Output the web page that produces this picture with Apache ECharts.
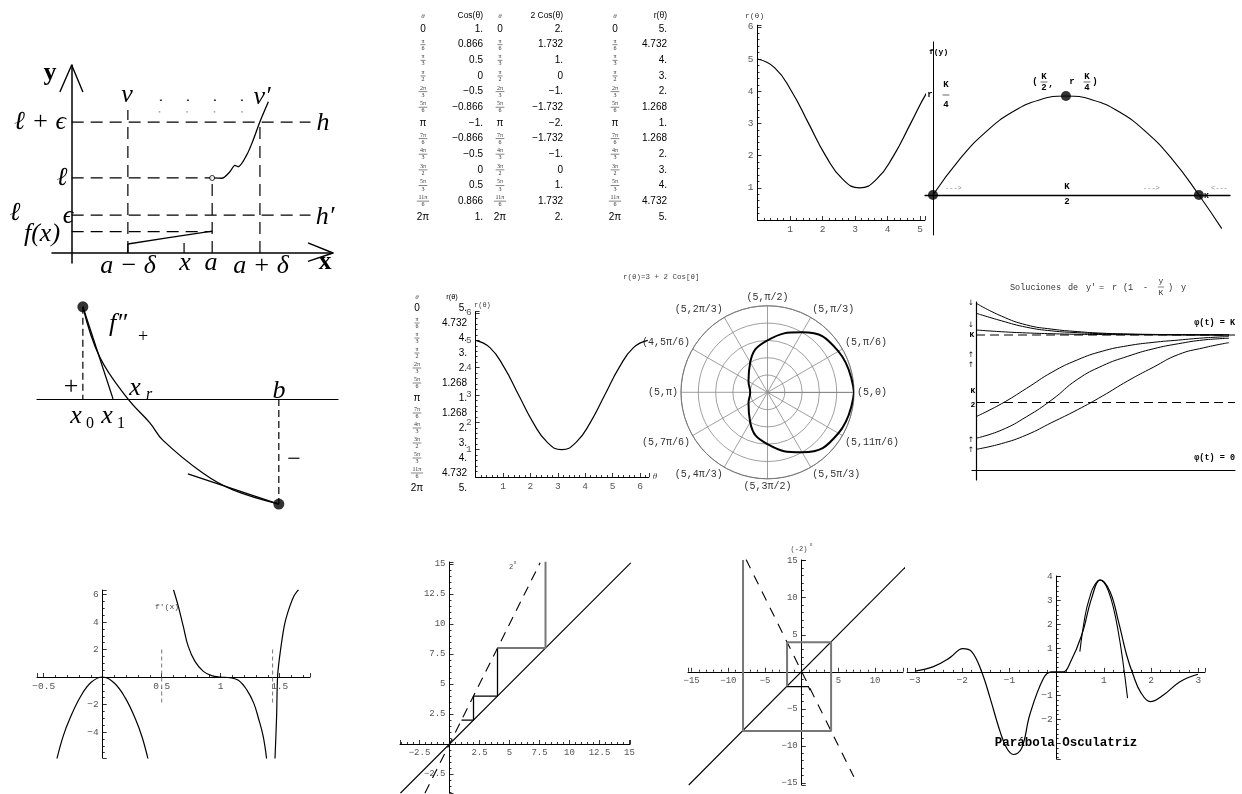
<!DOCTYPE html>
<html>
<head>
<meta charset="utf-8">
<script src="https://cdn.jsdelivr.net/npm/echarts@6/dist/echarts.min.js"></script>
<style>
  html, body { margin: 0; padding: 0; background: #fff; }
  #chart { width: 1242px; height: 794px; }
</style>
</head>
<body>
<div id="chart"></div>
<script>
// ---------- Tabla de r(θ) = 3 + 2 Cos θ ----------
const thetaLabels = ['0', 'π/6', 'π/3', 'π/2', '2π/3', '5π/6', 'π', '7π/6', '4π/3', '3π/2', '5π/3', '11π/6', '2π'];
const thetaRad = [0, 0.5236, 1.0472, 1.5708, 2.0944, 2.618, 3.1416, 3.6652, 4.1888, 4.7124, 5.236, 5.7596, 6.2832];
const thetaDeg = [0, 30, 60, 90, 120, 150, 180, 210, 240, 270, 300, 330, 360];
const cosVals = [1, 0.866, 0.5, 0, -0.5, -0.866, -1, -0.866, -0.5, 0, 0.5, 0.866, 1];
const twoCosVals = [2, 1.732, 1, 0, -1, -1.732, -2, -1.732, -1, 0, 1, 1.732, 2];
const rVals = [5, 4.732, 4, 3, 2, 1.268, 1, 1.268, 2, 3, 4, 4.732, 5];
const polarLabels = ['(5,0)', '(5,π/6)', '(5,π/3)', '(5,π/2)', '(5,2π/3)', '(4,5π/6)', '(5,π)', '(5,7π/6)', '(5,4π/3)', '(5,3π/2)', '(5,5π/3)', '(5,11π/6)'];

// ---------- Diagrama ε-δ ----------
const epsXMarks = [2, 4, 5, 6.7];          // a−δ, x, a, a+δ
const epsYLevels = [0.76, 1.35, 2.67, 4.66]; // f(x), ℓ−ε, ℓ, ℓ+ε
const epsLeftBranch = [[2, 0], [2, 0.32], [3.4, 0.54], [5, 0.78]];
const epsRightBranch = [[5.03, 2.67], [5.34, 2.66], [5.63, 2.89], [5.81, 3.12], [5.92, 3.07], [6.23, 3.49], [6.46, 4.02], [6.7, 4.67], [7.0, 5.38]];

// ---------- Método de Newton ----------
const newtonCurve = [[0, 2.35], [0.43, 1.07], [1.15, 0], [1.71, -0.61], [2.04, -1.05], [3.06, -1.89], [3.83, -2.32], [5, -2.68]];
const newtonEnds = [[0, 2.35], [5, -2.68]];
const newtonX1 = 0.77;
const newtonTangentLow = [[2.68, -1.91], [5, -2.68]];

// ---------- Crecimiento logístico f(y) ----------
const logY = [0, 0.1, 0.2, 0.3, 0.4, 0.5, 0.6, 0.7, 0.8, 0.9, 1.0, 1.086];
const logF = [0, 0.36, 0.64, 0.84, 0.96, 1, 0.96, 0.84, 0.64, 0.36, 0, -0.34];
const logMarks = [[0, 0], [0.5, 1], [1, 0]];

// ---------- Soluciones de y' = r(1 − y/K) y ----------
const solT = [0, 1, 2, 3, 4, 5, 6, 7, 8, 9, 10];
const solDown1 = [1.235, 1.14, 1.074, 1.043, 1.025, 1.013, 1.007, 1.004, 1.002, 1.001, 1.0];
const solDown2 = [1.161, 1.105, 1.057, 1.03, 1.017, 1.009, 1.005, 1.003, 1.002, 1.001, 1.0];
const solDown3 = [1.037, 1.024, 1.015, 1.009, 1.005, 1.003, 1.002, 1.001, 1.0, 1.0, 1.0];
const solUp1 = [0.395, 0.49, 0.605, 0.724, 0.815, 0.88, 0.92, 0.945, 0.962, 0.978, 0.988];
const solUp2 = [0.235, 0.295, 0.395, 0.52, 0.67, 0.772, 0.842, 0.897, 0.935, 0.963, 0.975];
const solUp3 = [0.153, 0.195, 0.26, 0.352, 0.445, 0.548, 0.66, 0.76, 0.855, 0.905, 0.943];

// ---------- f'(x) ----------
const fpBranchA = [[-0.39, -6.0], [-0.335, -4.3], [-0.28, -3.05], [-0.19, -1.45], [-0.1, -0.4], [0, 0], [0.1, -0.45], [0.19, -1.5], [0.28, -3.1], [0.335, -4.4], [0.385, -6.0]];
const fpBranchB = [[0.6, 6.35], [0.641, 5.14], [0.683, 3.68], [0.725, 2.23], [0.782, 1.14], [0.853, 0.41], [0.923, 0.1], [1.0, 0], [1.08, -0.05], [1.15, -0.24], [1.22, -0.92], [1.28, -1.9], [1.32, -3.0], [1.36, -4.3], [1.39, -6.0]];
const fpBranchC = [[1.46, -6.0], [1.474, -2.86], [1.482, 0], [1.5, 1.5], [1.538, 3.68], [1.567, 4.65], [1.62, 5.87], [1.66, 6.35]];
const fpGuides = [0.5, 1.44];
const fpTicksX = [-0.5, 0.5, 1, 1.5];
const fpTicksY = [-4, -2, 2, 4, 6];

// ---------- Iteración de 2x ----------
const twoDiag = [[-4.1, -4.1], [15.1, 15.1]];
const twoDashed = [[-2.05, -4.1], [7.55, 15.1]];
const twoStepsDark = [[1, 2], [2, 2], [2, 4], [4, 4], [4, 8]];
const twoStepsGray = [[4, 8], [8, 8], [8, 15.2]];
const twoTicks = [-2.5, 2.5, 5, 7.5, 10, 12.5, 15];

// ---------- Iteración de −2x ----------
const negDiag = [[-15.4, -15.3], [15.1, 15.1]];
const negDashed = [[-7.6, 15.2], [7.1, -14.2]];
const negStepsGray = [[-2, -2], [-2, 4], [4, 4], [4, -8], [-8, -8], [-8, 15.1]];
const negStepsDark = [[-2, -2], [0.9, -2], [1.15, -2.5]];
const negTicks = [-15, -10, -5, 5, 10, 15];

// ---------- Parábola osculatriz ----------
const oscX = [-3.0, -2.61, -2.26, -1.99, -1.8, -1.59, -1.41, -1.2, -1.06, -0.92, -0.74, -0.57, -0.28, -0.11, 0.14, 0.28, 0.53, 0.74, 0.92, 1.13, 1.31, 1.48, 1.62, 1.77, 1.98, 2.26, 2.61, 2.99];
const oscY = [0.03, 0.22, 0.6, 0.98, 0.85, 0.01, -1.1, -2.5, -3.2, -3.47, -3.2, -1.8, -0.27, 0.0, 0.0, 0.36, 1.55, 3.1, 3.87, 3.37, 2.1, 0.71, -0.13, -0.83, -1.25, -0.97, -0.41, -0.1];
const parX = [0.49, 0.6, 0.7, 0.8, 0.92, 1.0, 1.1, 1.2, 1.3, 1.4, 1.5];
const parY = [0.85, 2.35, 3.14, 3.64, 3.85, 3.76, 3.37, 2.7, 1.73, 0.46, -1.1];
const oscTicksX = [-3, -2, -1, 1, 2, 3];
const oscTicksY = [-2, -1, 1, 2, 3, 4];

const rTicksX5 = [1, 2, 3, 4, 5];
const rTicksX6 = [1, 2, 3, 4, 5, 6];
const rTicksY = [1, 2, 3, 4, 5, 6];

// ---------- helpers ----------
const SANS = '"Liberation Sans", Arial, sans-serif';
const MONO = '"Liberation Mono", "Courier New", monospace';
const SERIF = '"Liberation Serif", "Times New Roman", serif';

const zip = (xs, ys) => xs.map((x, i) => [x, ys[i]]);
const fmtTable = v => (v === 0 ? '0' : (Number.isInteger(v) ? v + '.' : String(v))).replace('-', '−');
const tickText = (list, v) => {
  if (!list) return '';
  const hit = list.find(t => Math.abs(t - v) < 1e-6);
  return hit === undefined ? '' : String(hit).replace('-', '−');
};

const grids = [], xAxes = [], yAxes = [], series = [], graphics = [];

// Axis crossing the other one at zero: shift it inward from the grid edge
function valAxis(gi, o, shift) {
  const hasTicks = o.step != null;
  return {
    type: 'value', gridIndex: gi, min: o.min, max: o.max,
    minInterval: o.step, maxInterval: o.step, splitNumber: 5,
    offset: -shift,
    axisLine: { show: o.line !== false, onZero: false, lineStyle: { color: '#000', width: o.lw || 1 } },
    axisTick: { show: hasTicks, inside: true, length: 4, lineStyle: { color: '#000', width: 0.8 } },
    minorTick: { show: hasTicks, splitNumber: o.minor || 5, length: 2, lineStyle: { color: '#000', width: 0.8 } },
    axisLabel: { show: !!o.labels, margin: o.margin != null ? o.margin : 4, fontFamily: MONO, fontSize: o.fs || 9.5, color: '#555',
      formatter: v => tickText(o.labels, v) },
    splitLine: { show: false }, minorSplitLine: { show: false }, splitArea: { show: false }
  };
}

function panel(box, xo, yo) {
  const gi = grids.length;
  const [left, top, width, height] = box;
  const fy = Math.min(1, Math.max(0, (0 - yo.min) / (yo.max - yo.min)));
  const fx = Math.min(1, Math.max(0, (0 - xo.min) / (xo.max - xo.min)));
  grids.push({ left, top, width, height, containLabel: false, outerBoundsMode: 'none' });
  xAxes.push(Object.assign(valAxis(gi, xo, fy * height), { position: 'bottom' }));
  yAxes.push(Object.assign(valAxis(gi, yo, fx * width), { position: 'left' }));
  return gi;
}

function line(gi, pts, o = {}) {
  series.push({
    type: 'line', xAxisIndex: gi, yAxisIndex: gi, data: pts, symbol: 'none', silent: true,
    smooth: o.smooth || false, clip: o.clip !== false, z: o.z || 3,
    lineStyle: { color: o.color || '#000', width: o.width || 1, type: o.dash || 'solid' }
  });
}

function dots(gi, pts, size, o = {}) {
  series.push({
    type: 'scatter', xAxisIndex: gi, yAxisIndex: gi, data: pts, symbol: 'circle', symbolSize: size, silent: true, z: 5,
    itemStyle: { color: o.fill || '#000', borderColor: '#000', borderWidth: o.border || 0 }
  });
}

function txt(text, x, y, o = {}) {
  const align = o.align || 'center', valign = o.valign || 'middle';
  graphics.push({
    type: 'text', x, y, z: 100, silent: true,
    style: {
      text, fill: o.color || '#000', fontSize: o.size || 10, fontFamily: o.family || SANS,
      fontStyle: o.italic ? 'italic' : 'normal', fontWeight: o.bold ? 'bold' : 'normal',
      align, verticalAlign: valign, textAlign: align, textVerticalAlign: valign
    }
  });
}

function frac(num, den, x, y, o = {}) {
  const s = o.size || 6;
  const w = Math.max(num.length, den.length) * s * 0.6 + 1.5;
  txt(num, x, y - s * (o.gap || 0.6), o);
  txt(den, x, y + s * (o.gap || 0.6), o);
  graphics.push({ type: 'line', z: 100, silent: true, shape: { x1: x - w / 2, y1: y, x2: x + w / 2, y2: y },
    style: { stroke: o.color || '#000', lineWidth: o.bar || 0.6 } });
}

function thetaCell(label, x, y) {
  if (label.indexOf('/') >= 0) {
    const [n, d] = label.split('/');
    frac(n, d, x, y, { size: 6, color: '#333', family: SERIF, gap: 0.6 });
  } else {
    txt(label, x, y, { size: 10, family: SANS });
  }
}

// ---------- ε-δ ----------
const gEps = panel([52, 65, 281, 198],
  { min: -0.7, max: 9.3, lw: 1.5 }, { min: -0.356, max: 6.69, lw: 1.5 });
{
  const [aMd, xP, a, aPd] = epsXMarks;
  const [fx, lMe, l, lPe] = epsYLevels;
  const dash = { dash: [12, 7], width: 1.2 };
  line(gEps, [[0, lPe], [8.5, lPe]], dash);
  line(gEps, [[0, lMe], [8.5, lMe]], dash);
  line(gEps, [[0, l], [a, l]], dash);
  line(gEps, [[0, fx], [a, fx]], dash);
  line(gEps, [[aMd, 0], [aMd, 5.09]], dash);
  line(gEps, [[a, 0], [a, l]], dash);
  line(gEps, [[aPd, 0], [aPd, lPe]], dash);
  line(gEps, [[3.14, 5.44], [6.17, 5.44]], { dash: [2, 25], width: 1.5, color: '#333' });
  line(gEps, [[3.1, 5.02], [6.2, 5.02]], { dash: [1.5, 26], width: 1.2, color: '#888' });
  line(gEps, [[xP, 0], [xP, 0.36]], { width: 1.2 });
  line(gEps, epsLeftBranch, { width: 1.3 });
  line(gEps, epsRightBranch, { width: 1.3, smooth: 0.3 });
  dots(gEps, [[a, l]], 5, { fill: '#fff', border: 1 });
  line(gEps, [[-0.42, 5.73], [0, 6.69], [0.4, 5.73]], { width: 1.4, clip: false });
  line(gEps, [[8.41, 0.36], [9.3, 0], [8.41, -0.3]], { width: 1.4, clip: false });
}
txt('y', 50, 73, { family: SERIF, size: 26, bold: true });
txt('v', 127, 95, { family: SERIF, size: 26, italic: true });
txt('v′', 262, 97, { family: SERIF, size: 26, italic: true });
txt('ℓ + ϵ', 40, 122, { family: SERIF, size: 26, italic: true });
txt('h', 323, 123, { family: SERIF, size: 26, italic: true });
txt('ℓ', 62, 178, { family: SERIF, size: 26, italic: true });
txt('ℓ', 15, 213, { family: SERIF, size: 26, italic: true });
txt('ϵ', 68, 216, { family: SERIF, size: 26, italic: true });
txt('h′', 325, 217, { family: SERIF, size: 26, italic: true });
txt('f(x)', 42, 234, { family: SERIF, size: 26, italic: true });
txt('a − δ', 128, 266, { family: SERIF, size: 26, italic: true });
txt('x', 185, 263, { family: SERIF, size: 26, italic: true });
txt('a', 211, 263, { family: SERIF, size: 26, italic: true });
txt('a + δ', 261, 266, { family: SERIF, size: 26, italic: true });
txt('x', 325, 262, { family: SERIF, size: 26, bold: true });

// ---------- Newton ----------
const gNew = panel([37, 295, 301, 220],
  { min: -1.17, max: 6.51, lw: 1.2 }, { min: -2.96, max: 2.65, line: false });
line(gNew, newtonCurve, { smooth: 0.4, width: 1.3 });
line(gNew, [newtonEnds[0], [newtonX1, 0]], { width: 1.3 });
line(gNew, newtonTangentLow, { width: 1.3 });
line(gNew, [newtonEnds[0], [newtonEnds[0][0], 0]], { dash: [7, 4], width: 1.2 });
line(gNew, [[newtonEnds[1][0], 0], newtonEnds[1]], { dash: [7, 4], width: 1.2 });
dots(gNew, newtonEnds, 11);
txt('f″', 118, 324, { family: SERIF, size: 26, italic: true });
txt('+', 143, 337, { family: SERIF, size: 18 });
txt('+', 71, 387, { family: SERIF, size: 26 });
txt('x', 135, 388, { family: SERIF, size: 26, italic: true });
txt('r', 149, 395, { family: SERIF, size: 16, italic: true });
txt('b', 279, 391, { family: SERIF, size: 26, italic: true });
txt('x', 76, 416, { family: SERIF, size: 26, italic: true });
txt('0', 90, 424, { family: SERIF, size: 16 });
txt('x', 107, 416, { family: SERIF, size: 26, italic: true });
txt('1', 121, 424, { family: SERIF, size: 16 });
txt('−', 294, 460, { family: SERIF, size: 24 });

// ---------- Tabla superior ----------
txt('θ', 423, 16, { size: 7, italic: true, family: SERIF, color: '#444' });
txt('Cos(θ)', 483, 16, { size: 8.5, align: 'right' });
txt('θ', 500, 16, { size: 7, italic: true, family: SERIF, color: '#444' });
txt('2 Cos(θ)', 563, 16, { size: 8.5, align: 'right' });
txt('θ', 615, 16, { size: 7, italic: true, family: SERIF, color: '#444' });
txt('r(θ)', 667, 16, { size: 8.5, align: 'right' });
thetaLabels.forEach((lab, i) => {
  const y = 29 + i * 15.65;
  thetaCell(lab, 423, y);
  txt(fmtTable(cosVals[i]), 483, y, { size: 10, align: 'right' });
  thetaCell(lab, 500, y);
  txt(fmtTable(twoCosVals[i]), 563, y, { size: 10, align: 'right' });
  thetaCell(lab, 615, y);
  txt(fmtTable(rVals[i]), 667, y, { size: 10, align: 'right' });
});

// ---------- Tabla central ----------
txt('θ', 417, 297, { size: 7, italic: true, family: SERIF, color: '#444' });
txt('r(θ)', 452, 297, { size: 7.5 });
thetaLabels.forEach((lab, i) => {
  const y = 308 + i * 15;
  thetaCell(lab, 417, y);
  txt(fmtTable(rVals[i]), 467, y, { size: 10, align: 'right' });
});

// ---------- r(θ) superior ----------
const gR1 = panel([757.5, 25.2, 167.4, 194.8],
  { min: 0, max: 5.15, step: 1, labels: rTicksX5 }, { min: 0, max: 6.05, step: 1, labels: rTicksY });
line(gR1, zip(thetaRad, rVals), { smooth: true, width: 1.2 });
txt('r(θ)', 745, 16, { family: MONO, size: 8, align: 'left', color: '#444' });

// ---------- r(θ) central ----------
const gR2 = panel([475.6, 311.6, 173.2, 165.4],
  { min: 0, max: 6.32, step: 1, labels: rTicksX6 }, { min: 0, max: 6.05, step: 1, labels: rTicksY });
line(gR2, zip(thetaRad, rVals), { smooth: true, width: 1.2 });
txt('r(θ)', 474, 305, { family: MONO, size: 7, align: 'left', color: '#444' });
txt('θ', 655, 477, { family: SERIF, size: 9, italic: true, color: '#444' });
txt('r(θ)=3 + 2 Cos[θ]', 623, 277, { family: MONO, size: 7.5, align: 'left', color: '#444' });

// ---------- f(y) logística ----------
const gLog = panel([925, 42, 305, 193],
  { min: -0.03, max: 1.117, lw: 1.3 }, { min: -0.404, max: 1.545, lw: 1 });
line(gLog, zip(logY, logF), { smooth: true, width: 1.1 });
dots(gLog, logMarks, 10);
txt('f(y)', 929, 52, { family: MONO, size: 8, bold: true, align: 'left' });
txt('r', 930, 95, { family: MONO, size: 9, bold: true });
frac('K', '4', 946, 95, { family: MONO, size: 9, bold: true, gap: 1.1 });
txt('(', 1035, 82, { family: MONO, size: 9, bold: true });
frac('K', '2', 1044, 82, { family: MONO, size: 9, bold: true, gap: 0.6 });
txt(',', 1051, 84, { family: MONO, size: 9, bold: true });
txt('r', 1072, 82, { family: MONO, size: 9, bold: true });
frac('K', '4', 1087, 82, { family: MONO, size: 9, bold: true, gap: 0.6 });
txt(')', 1095, 82, { family: MONO, size: 9, bold: true });
txt('K', 1067, 187, { family: MONO, size: 9, bold: true });
txt('2', 1067, 202, { family: MONO, size: 9, bold: true });
txt('K', 1204, 196, { family: MONO, size: 8, bold: true, align: 'left' });
txt('--->', 945, 188, { family: MONO, size: 7, align: 'left', color: '#888' });
txt('--->', 1143, 188, { family: MONO, size: 7, align: 'left', color: '#888' });
txt('<---', 1211, 188, { family: MONO, size: 7, align: 'left', color: '#888' });

// ---------- Polar ----------
series.push({
  type: 'line', coordinateSystem: 'polar', polarIndex: 0, silent: true, symbol: 'none', smooth: true, z: 5,
  data: rVals.map((r, i) => [r, thetaDeg[i]]),
  lineStyle: { color: '#000', width: 2 }
});

// ---------- Soluciones ----------
const gSol = panel([972, 302, 263, 178],
  { min: -0.16, max: 10.24, lw: 1.2 }, { min: -0.074, max: 1.244, lw: 1.2 });
line(gSol, [[0, 1], [10.24, 1]], { dash: [9, 5], width: 1.1 });
line(gSol, [[0, 0.5], [10.24, 0.5]], { dash: [9, 5], width: 1.1 });
[solDown1, solDown2, solDown3, solUp1, solUp2, solUp3].forEach(c => line(gSol, zip(solT, c), { smooth: true, width: 1 }));
[['Soluciones', 1010], ['de', 1068], ['y′', 1086], ['=', 1099], ['r', 1112], ['(1', 1123], ['-', 1143], [')', 1168], ['y', 1181]]
  .forEach(([t, x]) => txt(t, x, 288, { family: MONO, size: 8.5, align: 'left', color: '#333' }));
frac('y', 'K', 1161, 287, { family: MONO, size: 8, color: '#333', gap: 0.75 });
txt('K', 972, 335, { family: MONO, size: 8, bold: true });
txt('K', 973, 391, { family: MONO, size: 8, bold: true });
txt('2', 973, 405, { family: MONO, size: 8, bold: true });
txt('φ(t) = K', 1235, 323, { family: MONO, size: 8.5, bold: true, align: 'right' });
txt('φ(t) = 0', 1235, 458, { family: MONO, size: 8.5, bold: true, align: 'right' });
[[303, '↓'], [325, '↓'], [355, '↑'], [365, '↑'], [440, '↑'], [450, '↑']]
  .forEach(([y, s]) => txt(s, 971, y, { size: 7.5, color: '#111', family: '"DejaVu Sans", sans-serif' }));

// ---------- f'(x) ----------
const gFp = panel([37, 590, 273, 168],
  { min: -0.557, max: 1.757, step: 0.5, minor: 5, labels: fpTicksX },
  { min: -5.89, max: 6.33, step: 2, minor: 4, labels: fpTicksY });
line(gFp, fpBranchA, { smooth: 0.4, width: 1.2 });
line(gFp, fpBranchB, { smooth: 0.4, width: 1.2 });
line(gFp, fpBranchC, { smooth: 0.3, width: 1.2 });
fpGuides.forEach(g => line(gFp, [[g, 2], [g, -2]], { dash: [4, 3], width: 1, color: '#777' }));
txt("f'(x)", 167, 607, { family: MONO, size: 8, color: '#444' });

// ---------- 2x ----------
const gTwo = panel([400, 562, 230, 231],
  { min: -4.125, max: 15.04, step: 2.5, minor: 5, labels: twoTicks, fs: 9 },
  { min: -4.08, max: 15.17, step: 2.5, minor: 5, labels: twoTicks, fs: 9 });
line(gTwo, twoDiag, { width: 1.1 });
line(gTwo, twoDashed, { dash: [10, 7], width: 1.1 });
line(gTwo, twoStepsDark, { width: 1.3 });
line(gTwo, twoStepsGray, { width: 2, color: '#777' });
txt('2', 511, 567, { family: MONO, size: 7, color: '#444' });
txt('x', 515, 563, { family: MONO, size: 5, color: '#444' });

// ---------- −2x ----------
const gNeg = panel([688, 560, 215, 225],
  { min: -15.5, max: 13.8, step: 5, minor: 5, labels: negTicks, fs: 9 },
  { min: -15.3, max: 15.1, step: 5, minor: 5, labels: negTicks, fs: 9 });
line(gNeg, negDiag, { width: 1.1, clip: false });
line(gNeg, negDashed, { dash: [10, 8], width: 1.1 });
line(gNeg, negStepsGray, { width: 2, color: '#777' });
line(gNeg, negStepsDark, { width: 1.2 });
txt('(-2)', 799, 549, { family: MONO, size: 7, color: '#444' });
txt('x', 811, 545, { family: MONO, size: 5, color: '#444' });

// ---------- Parábola osculatriz ----------
const gOsc = panel([907, 576, 298, 183],
  { min: -3.17, max: 3.14, step: 1, minor: 5, labels: oscTicksX, fs: 9.5 },
  { min: -3.66, max: 4.03, step: 1, minor: 5, labels: oscTicksY, fs: 9.5 });
line(gOsc, zip(oscX, oscY), { smooth: 0.4, width: 1.2 });
line(gOsc, zip(parX, parY), { smooth: true, width: 1.1 });
txt('Parábola Osculatriz', 1066, 743, { family: MONO, size: 12.5, bold: true });

const chart = echarts.init(document.getElementById('chart'), null, { renderer: 'canvas' });
chart.setOption({
  animation: false,
  backgroundColor: '#fff',
  grid: grids,
  xAxis: xAxes,
  yAxis: yAxes,
  polar: { center: [767.5, 392.3], radius: 86.5 },
  angleAxis: {
    type: 'value', min: 0, max: 360, interval: 30, startAngle: 0, clockwise: false,
    axisLine: { show: true, lineStyle: { color: '#777', width: 1 } },
    axisTick: { show: false },
    axisLabel: { margin: 3, fontFamily: MONO, fontSize: 10, color: '#333',
      formatter: v => polarLabels[Math.round(v / 30)] || '' },
    splitLine: { show: true, lineStyle: { color: '#888', width: 0.8 } }
  },
  radiusAxis: {
    type: 'value', min: 0, max: 5, interval: 1,
    axisLine: { show: true, lineStyle: { color: '#888', width: 1 } },
    axisTick: { show: false }, axisLabel: { show: false },
    splitLine: { show: true, lineStyle: { color: '#888', width: 0.8 } }
  },
  series,
  graphic: graphics
});
</script>
</body>
</html>
